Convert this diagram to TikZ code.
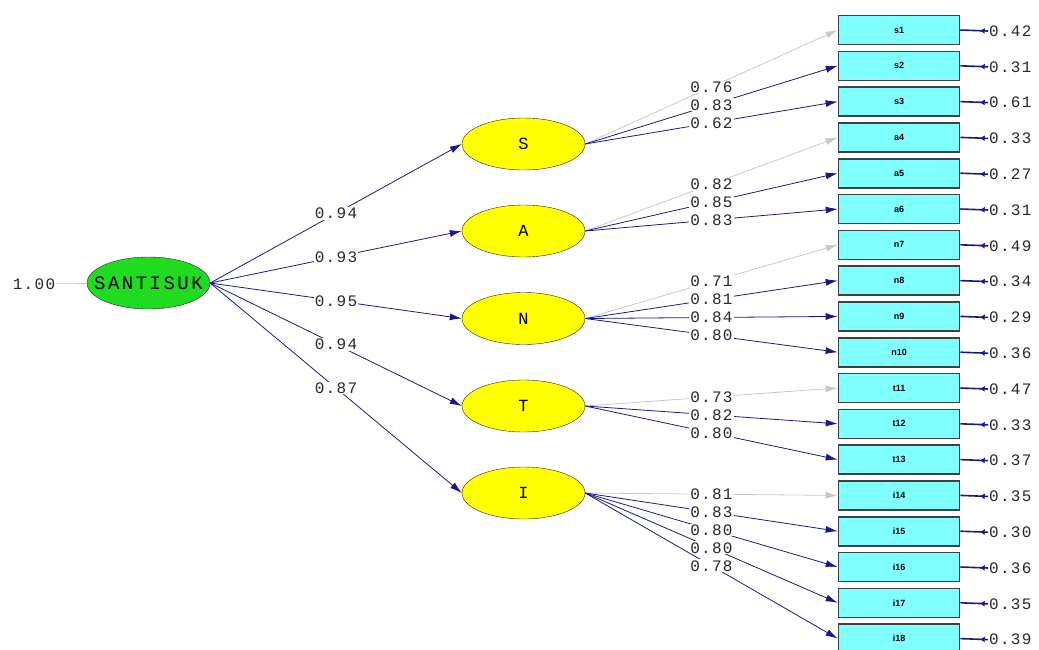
\documentclass[tikz,border=0pt]{standalone}
\usepackage{fontspec}
\usetikzlibrary{arrows.meta,shapes.geometric,decorations.markings}
\newfontfamily\lisfont[LetterSpace=8]{Liberation Mono}
\newfontfamily\widefont[LetterSpace=13]{Liberation Mono}
\newfontfamily\obsfont{Liberation Sans}
\definecolor{pathblue}{RGB}{24,24,140}
\definecolor{fixgray}{RGB}{200,200,200}
\definecolor{latyellow}{RGB}{255,255,0}
\definecolor{topgreen}{RGB}{32,220,32}
\definecolor{obscyan}{RGB}{128,255,255}
\definecolor{txtgray}{RGB}{40,40,40}
\begin{document}
\begin{tikzpicture}[x=1pt,y=-1pt]
\tikzstyle{latent}=[draw=black!85,shape=ellipse,fill=latyellow,minimum width=123pt,minimum height=52pt,inner sep=0pt,font=\lisfont\fontsize{17}{17}\selectfont]
\tikzstyle{top}=[latent,fill=topgreen,font=\widefont\fontsize{19}{19}\selectfont]
\tikzstyle{obs}=[draw=black!75,line width=1.6pt,fill=obscyan,minimum width=121pt,minimum height=29pt,inner sep=0pt,font=\obsfont\bfseries\fontsize{9}{9}\selectfont]
\tikzstyle{coef}=[fill=white,inner sep=1pt,text=txtgray,font=\lisfont\fontsize{16}{16}\selectfont]
\tikzstyle{free}=[pathblue,line width=0.8pt,-{Latex[length=12pt,width=7pt]}]
\tikzstyle{fixed}=[fixgray,line width=0.8pt,-{Latex[length=12pt,width=7pt]}]
\tikzstyle{errpath}=[pathblue,line width=1.6pt,postaction={decorate},decoration={markings,mark=at position 0.3 with {\arrow{Latex[length=5pt,width=6pt]}}}]
\useasboundingbox (0,0) rectangle (1039,649);
% latent variables
\node[top] at (148.5,283) (santisuk) {\makebox[0pt]{SANTISUK}};
\node[latent] at (523.5,144) (S) {S};
\node[latent] at (523.5,231) (A) {A};
\node[latent] at (523.5,318.5) (N) {N};
\node[latent] at (523.5,406) (T) {T};
\node[latent] at (523.5,493) (I) {I};
% observed variables
\node[obs] at (899,30) (s1) {s1};
\node[obs] at (899,65.8) (s2) {s2};
\node[obs] at (899,101.6) (s3) {s3};
\node[obs] at (899,137.4) (a4) {a4};
\node[obs] at (899,173.2) (a5) {a5};
\node[obs] at (899,209) (a6) {a6};
\node[obs] at (899,244.8) (n7) {n7};
\node[obs] at (899,280.6) (n8) {n8};
\node[obs] at (899,316.4) (n9) {n9};
\node[obs] at (899,352.2) (n10) {n10};
\node[obs] at (899,388) (t11) {t11};
\node[obs] at (899,423.8) (t12) {t12};
\node[obs] at (899,459.6) (t13) {t13};
\node[obs] at (899,495.4) (i14) {i14};
\node[obs] at (899,531.2) (i15) {i15};
\node[obs] at (899,567) (i16) {i16};
\node[obs] at (899,602.8) (i17) {i17};
\node[obs] at (899,638.6) (i18) {i18};
% variance of SANTISUK
\node[coef] at (34,284) (v0) {1.00};
\draw[fixgray,line width=0.8pt] (v0) -- (santisuk);
% structural paths
\draw[free] (santisuk.east) -- (S.west) node[coef,midway] {0.94};
\draw[free] (santisuk.east) -- (A.west) node[coef,midway] {0.93};
\draw[free] (santisuk.east) -- (N.west) node[coef,midway] {0.95};
\draw[free] (santisuk.east) -- (T.west) node[coef,midway] {0.94};
\draw[free] (santisuk.east) -- (I.west) node[coef,midway] {0.87};
% loadings
\draw[fixed] (S.east) -- (s1.west) node[coef,midway] {0.76};
\draw[free] (S.east) -- (s2.west) node[coef,midway] {0.83};
\draw[free] (S.east) -- (s3.west) node[coef,midway] {0.62};
\draw[fixed] (A.east) -- (a4.west) node[coef,midway] {0.82};
\draw[free] (A.east) -- (a5.west) node[coef,midway] {0.85};
\draw[free] (A.east) -- (a6.west) node[coef,midway] {0.83};
\draw[fixed] (N.east) -- (n7.west) node[coef,midway] {0.71};
\draw[free] (N.east) -- (n8.west) node[coef,midway] {0.81};
\draw[free] (N.east) -- (n9.west) node[coef,midway] {0.84};
\draw[free] (N.east) -- (n10.west) node[coef,midway] {0.80};
\draw[fixed] (T.east) -- (t11.west) node[coef,midway] {0.73};
\draw[free] (T.east) -- (t12.west) node[coef,midway] {0.82};
\draw[free] (T.east) -- (t13.west) node[coef,midway] {0.80};
\draw[fixed] (I.east) -- (i14.west) node[coef,midway] {0.81};
\draw[free] (I.east) -- (i15.west) node[coef,midway] {0.83};
\draw[free] (I.east) -- (i16.west) node[coef,midway] {0.80};
\draw[free] (I.east) -- (i17.west) node[coef,midway] {0.80};
\draw[free] (I.east) -- (i18.west) node[coef,midway] {0.78};
% error variances
\node[coef,anchor=west] at (988,31) (e1) {0.42};
\node[coef,anchor=west] at (988,66.8) (e2) {0.31};
\node[coef,anchor=west] at (988,102.6) (e3) {0.61};
\node[coef,anchor=west] at (988,138.4) (e4) {0.33};
\node[coef,anchor=west] at (988,174.2) (e5) {0.27};
\node[coef,anchor=west] at (988,210) (e6) {0.31};
\node[coef,anchor=west] at (988,245.8) (e7) {0.49};
\node[coef,anchor=west] at (988,281.6) (e8) {0.34};
\node[coef,anchor=west] at (988,317.4) (e9) {0.29};
\node[coef,anchor=west] at (988,353.2) (e10) {0.36};
\node[coef,anchor=west] at (988,389) (e11) {0.47};
\node[coef,anchor=west] at (988,424.8) (e12) {0.33};
\node[coef,anchor=west] at (988,460.6) (e13) {0.37};
\node[coef,anchor=west] at (988,496.4) (e14) {0.35};
\node[coef,anchor=west] at (988,532.2) (e15) {0.30};
\node[coef,anchor=west] at (988,568) (e16) {0.36};
\node[coef,anchor=west] at (988,603.8) (e17) {0.35};
\node[coef,anchor=west] at (988,639.6) (e18) {0.39};
\draw[errpath] (e1.west) -- (s1.east);
\draw[errpath] (e2.west) -- (s2.east);
\draw[errpath] (e3.west) -- (s3.east);
\draw[errpath] (e4.west) -- (a4.east);
\draw[errpath] (e5.west) -- (a5.east);
\draw[errpath] (e6.west) -- (a6.east);
\draw[errpath] (e7.west) -- (n7.east);
\draw[errpath] (e8.west) -- (n8.east);
\draw[errpath] (e9.west) -- (n9.east);
\draw[errpath] (e10.west) -- (n10.east);
\draw[errpath] (e11.west) -- (t11.east);
\draw[errpath] (e12.west) -- (t12.east);
\draw[errpath] (e13.west) -- (t13.east);
\draw[errpath] (e14.west) -- (i14.east);
\draw[errpath] (e15.west) -- (i15.east);
\draw[errpath] (e16.west) -- (i16.east);
\draw[errpath] (e17.west) -- (i17.east);
\draw[errpath] (e18.west) -- (i18.east);
\end{tikzpicture}
\end{document}
